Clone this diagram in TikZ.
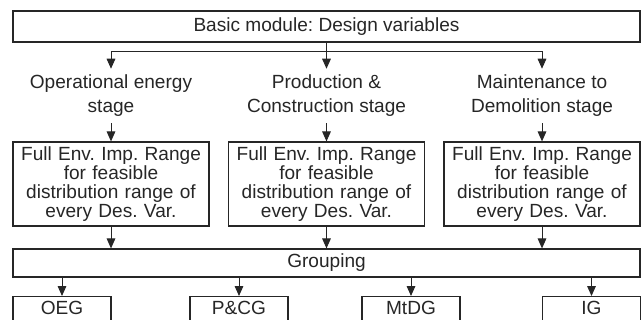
\documentclass[tikz,border=0pt]{standalone}
\usepackage{fontspec}
\setmainfont{Liberation Sans}
\frenchspacing
\usetikzlibrary{arrows.meta,positioning}
\tikzset{
  widebox/.style={draw, line width=0.9pt, align=center, inner sep=0pt,
                  minimum width=470.25pt, minimum height=23.25pt},
  stagelabel/.style={align=center, inner sep=0pt, minimum height=40.5pt,
                     font=\fontsize{14.3}{18}\selectfont},
  rangebox/.style={draw, line width=0.9pt, align=center, inner xsep=3.75pt,
                   inner ysep=0pt, text width=139.5pt, minimum height=63pt,
                   font=\fontsize{14.3}{14.25}\selectfont},
  groupbox/.style={draw, line width=0.9pt, anchor=north, minimum width=73.5pt,
                   inner xsep=0pt, inner ysep=4.5pt, text height=9pt, text depth=15pt},
  flowarrow/.style={-{Triangle[length=7.5pt, width=6.5pt]}, line width=0.75pt}
}

\begin{document}
\begin{tikzpicture}[x=0.75pt, y=-0.75pt, font=\fontsize{14.3}{17}\selectfont,
                    color=black!85]
  \clip (0,0) rectangle (642,320);

  \node[widebox] (basic) at (326.5,26.5) {Basic module: Design variables};
  \coordinate (split) at (326.5,52);

  \node[stagelabel] (stageO) at (111,96) {Operational energy\\stage};
  \node[stagelabel] (stageP) at (326.5,96) {Production \&\\Construction stage};
  \node[stagelabel] (stageM) at (542,96) {Maintenance to\\Demolition stage};

  \node[rangebox] (rangeO) at (111,184)
    {Full Env. Imp. Range\\for feasible\\distribution range of\\every Des. Var.};
  \node[rangebox] (rangeP) at (326.5,184)
    {Full Env. Imp. Range\\for feasible\\distribution range of\\every Des. Var.};
  \node[rangebox] (rangeM) at (542,184)
    {Full Env. Imp. Range\\for feasible\\distribution range of\\every Des. Var.};

  \node[widebox, minimum height=21pt] (grouping) at (326.5,263) {Grouping};

  \node[groupbox] (oeg) at (62,296) {OEG};
  \node[groupbox] (pcg) at (239,296) {P\&CG};
  \node[groupbox] (mtdg) at (411,296) {MtDG};
  \node[groupbox] (ig) at (591.5,296) {IG};

  \draw[line width=0.75pt] (basic.south) -- (split);
  \draw[flowarrow] (split) -| (stageO.north);
  \draw[flowarrow] (split) -- (stageP.north);
  \draw[flowarrow] (split) -| (stageM.north);

  \draw[flowarrow] (stageO.south) -- (rangeO.north);
  \draw[flowarrow] (stageP.south) -- (rangeP.north);
  \draw[flowarrow] (stageM.south) -- (rangeM.north);

  \draw[flowarrow] (rangeO.south) -- (rangeO.south |- grouping.north);
  \draw[flowarrow] (rangeP.south) -- (rangeP.south |- grouping.north);
  \draw[flowarrow] (rangeM.south) -- (rangeM.south |- grouping.north);

  \draw[flowarrow] (grouping.south -| oeg.north) -- (oeg.north);
  \draw[flowarrow] (grouping.south -| pcg.north) -- (pcg.north);
  \draw[flowarrow] (grouping.south -| mtdg.north) -- (mtdg.north);
  \draw[flowarrow] (grouping.south -| ig.north) -- (ig.north);
\end{tikzpicture}
\end{document}
